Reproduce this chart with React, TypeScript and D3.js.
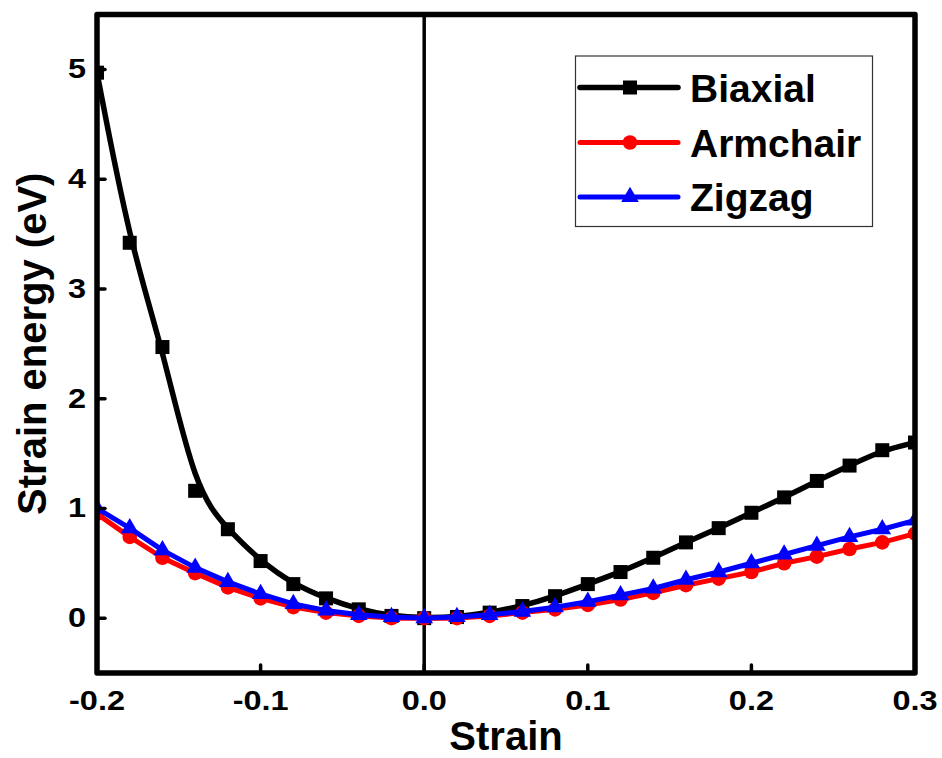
import React from "react";
import * as d3 from "d3";

const strain = [-0.2, -0.18, -0.16, -0.14, -0.12, -0.1, -0.08, -0.06, -0.04, -0.02, 0, 0.02, 0.04, 0.06, 0.08, 0.1, 0.12, 0.14, 0.16, 0.18, 0.2, 0.22, 0.24, 0.26, 0.28, 0.3];
const biaxial = [4.97, 3.42, 2.47, 1.16, 0.81, 0.52, 0.31, 0.18, 0.08, 0.02, 0, 0.01, 0.05, 0.11, 0.2, 0.31, 0.42, 0.55, 0.69, 0.82, 0.96, 1.1, 1.25, 1.39, 1.53, 1.6];
const armchair = [0.95, 0.74, 0.55, 0.41, 0.28, 0.18, 0.1, 0.05, 0.02, 0.0, 0, 0.0, 0.02, 0.05, 0.08, 0.12, 0.17, 0.23, 0.3, 0.36, 0.42, 0.5, 0.56, 0.63, 0.69, 0.77];
const zigzag = [1.0, 0.82, 0.62, 0.46, 0.33, 0.22, 0.13, 0.07, 0.03, 0.01, 0, 0.01, 0.03, 0.06, 0.1, 0.15, 0.21, 0.27, 0.35, 0.42, 0.5, 0.58, 0.66, 0.74, 0.81, 0.89];
const xTicks = [-0.2, -0.1, 0.0, 0.1, 0.2, 0.3];
const yTicks = [0, 1, 2, 3, 4, 5];
const seriesNames = ["Biaxial", "Armchair", "Zigzag"];
const seriesColors = ["#000000", "#ff0000", "#0000ff"];

const W = 942, H = 758;
const L = 97, R = 915, T = 14.5, B = 673;
const FONT = "'Liberation Sans', Arial, sans-serif";

function Marker({ kind, x, y, color }: { kind: number; x: number; y: number; color: string }) {
  if (kind === 0) return <rect x={x - 7} y={y - 7} width={14} height={14} fill={color} />;
  if (kind === 1) return <circle cx={x} cy={y} r={7.3} fill={color} />;
  const s = d3.symbol().type(d3.symbolTriangle).size(135)();
  return <path d={s || ""} transform={`translate(${x},${y})`} fill={color} />;
}

export default function App() {
  const x = d3.scaleLinear().domain([-0.2, 0.3]).range([L, R]);
  const y = d3.scaleLinear().domain([-0.5, 5.5]).range([B, T]);
  const data = [biaxial, armchair, zigzag];
  const curves = [d3.curveBasis, d3.curveLinear, d3.curveLinear];
  const widths = [5.5, 5, 5];

  return (
    <svg width={W} height={H} style={{ position: "absolute", left: 0, top: 0, background: "#fff" }}>
      <defs>
        <clipPath id="plot">
          <rect x={L} y={T} width={R - L} height={B - T} />
        </clipPath>
      </defs>
      <rect width={W} height={H} fill="#fff" />
      <line x1={x(0)} x2={x(0)} y1={T} y2={B} stroke="#000" strokeWidth={3.5} />
      <g clipPath="url(#plot)">
        {data.map((vals, si) => {
          const line = d3
            .line<number>()
            .x((_, i) => x(strain[i]))
            .y((v) => y(v))
            .curve(curves[si]);
          return (
            <g key={si}>
              <path d={line(vals) || ""} fill="none" stroke={seriesColors[si]} strokeWidth={widths[si]} strokeLinejoin="round" />
              {vals.map((v, i) => (
                <Marker key={i} kind={si} x={x(strain[i])} y={y(v)} color={seriesColors[si]} />
              ))}
            </g>
          );
        })}
      </g>
      {xTicks.map((t) => (
        <line key={t} x1={x(t)} x2={x(t)} y1={B} y2={B - 8} stroke="#000" strokeWidth={3.5} strokeLinecap="round" />
      ))}
      {yTicks.map((t) => (
        <line key={t} x1={L} x2={L + 8} y1={y(t)} y2={y(t)} stroke="#000" strokeWidth={3.5} strokeLinecap="round" />
      ))}
      <rect x={L} y={T} width={R - L} height={B - T} fill="none" stroke="#000" strokeWidth={5.5} strokeLinejoin="round" />
      {xTicks.map((t) => (
        <text
          key={t}
          transform={`translate(${x(t)},710) scale(1.16,1)`}
          textAnchor="middle"
          fontFamily={FONT}
          fontWeight="bold"
          fontSize={28}
        >
          {t.toFixed(1)}
        </text>
      ))}
      {yTicks.map((t) => (
        <text
          key={t}
          transform={`translate(86,${y(t) + 9}) scale(1.16,1)`}
          textAnchor="end"
          fontFamily={FONT}
          fontWeight="bold"
          fontSize={28}
        >
          {t}
        </text>
      ))}
      <text x={(L + R) / 2} y={750} textAnchor="middle" fontFamily={FONT} fontWeight="bold" fontSize={40}>
        Strain
      </text>
      <text
        transform={`translate(46,${(T + B) / 2}) rotate(-90)`}
        textAnchor="middle"
        fontFamily={FONT}
        fontWeight="bold"
        fontSize={40}
      >
        Strain energy (eV)
      </text>
      <rect x={575.5} y={56} width={297} height={170.5} fill="#fff" stroke="#333" strokeWidth={1.2} />
      {seriesNames.map((n, i) => {
        const ly = [87.5, 142.5, 197][i];
        return (
          <g key={n}>
            <line x1={580} x2={678} y1={ly} y2={ly} stroke={seriesColors[i]} strokeWidth={widths[i]} strokeLinecap="round" />
            <Marker kind={i} x={630} y={ly} color={seriesColors[i]} />
            <text x={690} y={ly + 14} fontFamily={FONT} fontWeight="bold" fontSize={39}>
              {n}
            </text>
          </g>
        );
      })}
    </svg>
  );
}
